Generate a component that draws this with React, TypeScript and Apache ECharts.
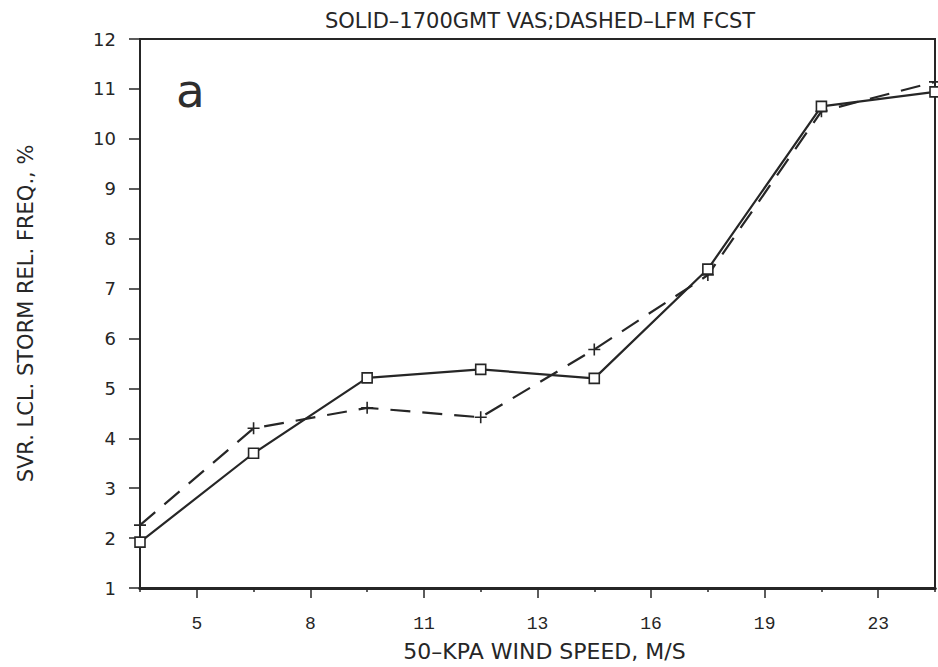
import React, { useEffect, useRef } from "react";
import * as echarts from "echarts";

const xPositions = [0, 1, 2, 3, 4, 5, 6, 7];
const windSpeedLabels = ["5", "8", "11", "13", "16", "19", "23"];
const solidVAS = [1.92, 3.7, 5.21, 5.38, 5.2, 7.39, 10.65, 10.94];
const dashedLFM = [2.26, 4.2, 4.61, 4.42, 5.78, 7.27, 10.55, 11.14];

const titleText = "SOLID\u20131700GMT VAS;DASHED\u2013LFM FCST";
const xName = "50\u2013KPA WIND SPEED, M/S";
const yName = "SVR. LCL. STORM REL. FREQ., %";
const panelLetter = "a";

const INK = "#262626";

export default function App() {
  const ref = useRef<HTMLDivElement>(null);
  useEffect(() => {
    document.body.style.margin = "0";
    const chart = echarts.init(ref.current as HTMLDivElement, null, { renderer: "svg" });
    const solidData = xPositions.map((x, i) => [x, solidVAS[i]]);
    const dashedData = xPositions.map((x, i) => [x, dashedLFM[i]]);
    chart.setOption({
      animation: false,
      backgroundColor: "#ffffff",
      title: {
        text: titleText,
        left: 535,
        top: 5,
        textAlign: "center",
        textStyle: { fontFamily: "DejaVu Sans", fontSize: 21, fontWeight: "normal", color: INK },
      },
      grid: {
        left: 140,
        right: 3,
        top: 39,
        bottom: 77,
        show: true,
        borderColor: INK,
        borderWidth: 2,
        backgroundColor: "transparent",
      },
      xAxis: [
        {
          type: "value",
          min: 0,
          max: 7,
          interval: 1,
          position: "bottom",
          axisLine: { show: true, lineStyle: { color: INK, width: 3 } },
          axisTick: { show: true, length: 4, lineStyle: { color: INK, width: 1.5 } },
          axisLabel: { show: false },
          splitLine: { show: false },
        },
        {
          type: "category",
          data: windSpeedLabels,
          boundaryGap: true,
          position: "bottom",
          axisLine: { show: true, lineStyle: { color: INK, width: 3 } },
          axisTick: { show: true, alignWithLabel: true, length: 10, lineStyle: { color: INK, width: 1.5 } },
          axisLabel: {
            margin: 27,
            fontFamily: "Liberation Mono",
            fontSize: 18,
            color: INK,
          },
          splitLine: { show: false },
          name: xName,
          nameLocation: "middle",
          nameGap: 52,
          nameTextStyle: {
            fontFamily: "DejaVu Sans",
            fontSize: 22,
            color: INK,
            padding: [0, 0, 0, 14],
          },
        },
      ],
      yAxis: {
        type: "value",
        min: 1,
        max: 12,
        interval: 1,
        axisLine: { show: true, lineStyle: { color: INK, width: 2 } },
        axisTick: { show: true, length: 11, lineStyle: { color: INK, width: 1.5 } },
        axisLabel: { margin: 24, fontFamily: "DejaVu Sans", fontSize: 18, color: INK },
        splitLine: { show: false },
        name: yName,
        nameLocation: "middle",
        nameRotate: 90,
        nameGap: 104,
        nameTextStyle: { fontFamily: "DejaVu Sans", fontSize: 21, color: INK },
      },
      graphic: [
        {
          type: "text",
          left: 176,
          top: 67,
          style: {
            text: panelLetter,
            fontFamily: "DejaVu Sans",
            fontWeight: "normal",
            fontSize: 47,
            fill: "#2e2e2e",
          },
        },
      ],
      series: [
        {
          name: "LFM FCST",
          type: "line",
          xAxisIndex: 0,
          data: dashedData,
          clip: false,
          symbol: "path://M0,6H12M6,0V12",
          symbolSize: 12,
          itemStyle: { color: INK, borderColor: INK, borderWidth: 1.6 },
          lineStyle: { color: INK, width: 2.2, type: [20, 12] },
          z: 2,
        },
        {
          name: "1700GMT VAS",
          type: "line",
          xAxisIndex: 0,
          data: solidData,
          clip: false,
          symbol: "rect",
          symbolSize: 10,
          itemStyle: { color: "#ffffff", borderColor: INK, borderWidth: 1.6 },
          lineStyle: { color: INK, width: 2.2 },
          z: 3,
        },
      ],
    });
    return () => chart.dispose();
  }, []);
  return (
    <div
      ref={ref}
      style={{ position: "fixed", left: 0, top: 0, width: 938, height: 667 }}
    />
  );
}
